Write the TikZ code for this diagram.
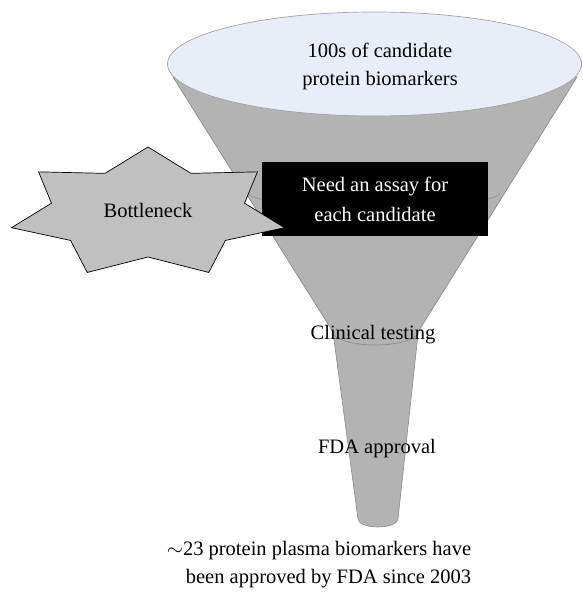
\documentclass[tikz,border=0pt]{standalone}
\usepackage{fontspec}
\setmainfont{Liberation Serif}
\usepackage{xcolor}
\usepackage{tikz}
\definecolor{funnelgray}{HTML}{B3B3B3}
\definecolor{rimblue}{HTML}{E9EDF7}
\definecolor{edgegray}{HTML}{8C8C8C}
\definecolor{stargray}{HTML}{C0C0C0}
\tikzset{
  funnel/.style={fill=funnelgray, draw=edgegray, line width=0.7pt},
  rim/.style={fill=rimblue, draw=edgegray!80, line width=0.7pt},
  seam/.style={draw=edgegray, line width=0.6pt},
  burst/.style={fill=stargray, draw=black, line width=0.7pt},
  lab/.style={font=\fontsize{20.5}{28}\selectfont, align=center, inner sep=0pt},
  blackbox/.style={fill=black, text=white, minimum width=226pt, minimum height=74pt,
    font=\fontsize{20.5}{30}\selectfont, align=center, inner sep=0pt},
}

\begin{document}
\begin{tikzpicture}[x=1pt, y=1pt]
  \useasboundingbox (0,0) rectangle (582,-594);
  % narrow tube
  \coordinate (TL) at (332,-325);
  \coordinate (TR) at (419,-325);
  \coordinate (BL) at (358,-519);
  \coordinate (BR) at (398,-519);
  \fill[funnelgray] (TL) -- (BL) arc[start angle=180, end angle=360, x radius=20, y radius=8] -- (TR) -- cycle;
  \draw[seam] (TL) -- (BL) arc[start angle=180, end angle=360, x radius=20, y radius=8] -- (TR);
  % wide cone
  \coordinate (CL) at (173,-77);
  \coordinate (CR) at (577,-77);
  \coordinate (NL) at (333,-332);
  \coordinate (NR) at (418,-332);
  \draw[funnel] (CL) -- (NL) arc[start angle=180, end angle=360, x radius=42.5, y radius=13] -- (CR) -- cycle;
  \draw[seam] (248,-193) arc[start angle=180, end angle=360, x radius=126, y radius=14];
  % rim
  \draw[rim] (374.5,-64) ellipse[x radius=207, y radius=52];
  \node[lab] (top) at (380,-66.5) {100s of candidate\\protein biomarkers};
  \node[lab, anchor=base] (clin) at (373,-339) {Clinical testing};
  \node[lab, anchor=base] (fda) at (377,-453) {FDA approval};
  \node[lab] (result) at (319,-564.5) {$\sim$23 protein plasma biomarkers have\\\hspace*{19pt}been approved by FDA since 2003};
  \node[blackbox] (assay) at (375,-199) {Need an assay for\\each candidate};
  % bottleneck burst
  \draw[burst, shift={(148,-213)}] (90:140 and 66)
    \foreach \k in {1,...,7} { -- ({90+(\k-0.5)*360/7}:99 and 44) -- ({90+\k*360/7}:140 and 66) } -- cycle;
  \node[lab, anchor=base] (neck) at (148,-217) {Bottleneck};
\end{tikzpicture}
\end{document}
